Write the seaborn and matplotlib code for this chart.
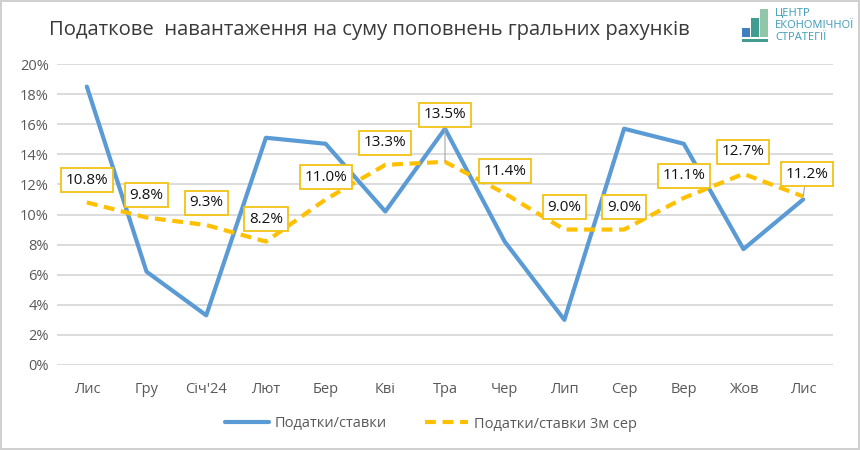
import matplotlib
matplotlib.use("Agg")
import matplotlib.pyplot as plt
import seaborn as sns
import pandas as pd
from matplotlib.patches import Rectangle

months = ["Лис", "Гру", "Січ'24", "Лют", "Бер", "Кві", "Тра", "Чер", "Лип", "Сер", "Вер", "Жов", "Лис"]
tax_rate = [18.5, 6.2, 3.3, 15.1, 14.7, 10.2, 15.7, 8.2, 3.0, 15.7, 14.7, 7.7, 11.0]
tax_rate_3m = [10.8, 9.8, 9.3, 8.2, 11.0, 13.3, 13.5, 11.4, 9.0, 9.0, 11.1, 12.7, 11.2]
yticks = [0, 2, 4, 6, 8, 10, 12, 14, 16, 18, 20]

title = "Податкове  навантаження на суму поповнень гральних рахунків"
name_main = "Податки/ставки"
name_avg = "Податки/ставки 3м сер"
logo_lines = ["ЦЕНТР", "ЕКОНОМІЧНОЇ", "СТРАТЕГІЇ"]

sns.set_style("white")
plt.rcParams["font.family"] = ["Open Sans", "DejaVu Sans"]

BLUE = "#5B9BD5"
GOLD = "#FFC000"
GRAY = "#595959"

df = pd.DataFrame({"x": list(range(len(months))), "main": tax_rate, "avg": tax_rate_3m})

fig = plt.figure(figsize=(8.6, 4.5), dpi=100)
fig.patch.set_edgecolor("#D0D0D0")
fig.patch.set_linewidth(1.5)
ax = fig.add_axes([57/860, 1-365/450, (833-57)/860, (365-64)/450])

for y in yticks:
    ax.axhline(y, color="#D9D9D9", lw=1.3, zorder=0)

sns.lineplot(data=df, x="x", y="main", ax=ax, color=BLUE, lw=3.0, label=name_main,
             solid_capstyle="round", zorder=3)
sns.lineplot(data=df, x="x", y="avg", ax=ax, color=GOLD, lw=3.0, label=name_avg,
             zorder=4, dashes=False)
ax.lines[-1].set_linestyle((0, (2.6, 1.6)))

ax.set_xlim(-0.5, len(months) - 0.5)
ax.set_ylim(0, 20)
ax.set_xticks(range(len(months)))
ax.set_xticklabels(months, color=GRAY, fontsize=10.5)
ax.set_yticks(yticks)
ax.set_yticklabels([f"{v}%" for v in yticks], color=GRAY, fontsize=10.5)
ax.tick_params(axis="both", length=0, pad=6)
ax.tick_params(axis="x", pad=12)
ax.set_xlabel("")
ax.set_ylabel("")
for s in ax.spines.values():
    s.set_visible(False)

for i, v in enumerate(tax_rate_3m):
    dy = 16
    dx = 0
    arrow = None
    if i == 6:
        dy = 34
        arrow = dict(arrowstyle="-", color="#A6A6A6", lw=0.8, shrinkA=0, shrinkB=0)
    if i == len(tax_rate_3m) - 1:
        dx = 2.5
        arrow = dict(arrowstyle="-", color="#A6A6A6", lw=0.8, shrinkA=0, shrinkB=0)
    ax.annotate(f"{v:.1f}%", xy=(i, v), xytext=(dx, dy), textcoords="offset points",
                ha="center", va="center", fontsize=11, color="#111111",
                bbox=dict(boxstyle="square,pad=0.3", fc="white", ec="#F2C314", lw=1.3),
                arrowprops=arrow, zorder=6)

leg = ax.legend(loc="center", bbox_to_anchor=(431/860, 1-424/450), bbox_transform=fig.transFigure,
                ncol=2, frameon=False, fontsize=10.5, handlelength=3.0, columnspacing=2.6,
                handletextpad=0.4)
for t in leg.get_texts():
    t.set_color(GRAY)

fig.text(49/860, 1-30/450, title, fontsize=14.6, color="#3A3A3A", ha="left", va="center")

# logo
bar_specs = [(742, 28, 8, 9, "#3D7FBF"), (751, 18, 8, 19, "#3F9C8E"), (760, 9, 8, 28, "#92C6A8")]
for x0, y0, w, h, c in bar_specs:
    fig.add_artist(Rectangle((x0/860, 1-(y0+h)/450), w/860, h/450, transform=fig.transFigure,
                             fc=c, ec="none"))
fig.add_artist(Rectangle((742/860, 1-42/450), 26/860, 3/450, transform=fig.transFigure,
                         fc="#3F9C8E", ec="none"))
for k, line in enumerate(logo_lines):
    fig.text(775/860, 1-(13 + k*12)/450, line, fontsize=8, color="#3A9AB5", ha="left", va="center")

fig.savefig("out.png", dpi=100)
